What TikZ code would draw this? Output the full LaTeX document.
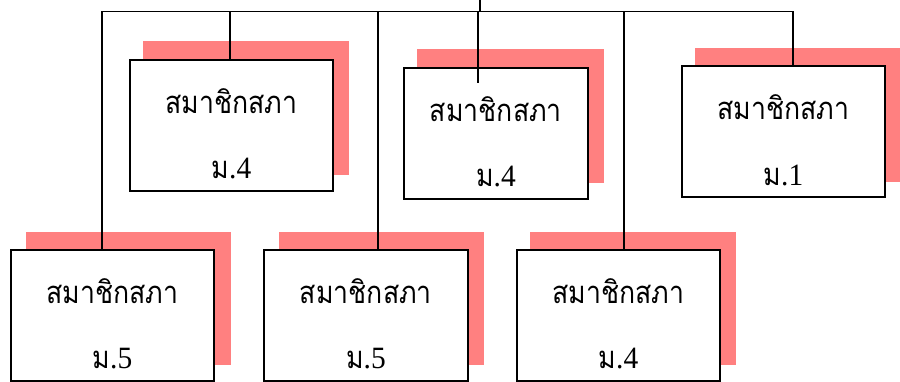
\documentclass[tikz,border=0pt]{standalone}
\usepackage{fontspec}
\newfontfamily\thai[Script=Thai,FakeStretch=0.86]{Loma}
\newfontfamily\num[FakeStretch=0.95]{Liberation Serif}
\definecolor{shade}{RGB}{255,128,128}
\begin{document}
\begin{tikzpicture}[x=1pt,y=-1pt,
  box/.style={draw=black, line width=1.8pt, fill=white, inner sep=0pt, anchor=north west, minimum height=131pt},
  shadow/.style={fill=shade},
  conn/.style={draw=black, line width=1.3pt},
  lbl/.style={inner sep=0pt, font=\thai\fontsize{31}{33}\selectfont}]
\useasboundingbox (0,0) rectangle (900,382);
% shadows
\fill[shadow] (143,41) rectangle (349,175);
\fill[shadow] (417,49) rectangle (604,183);
\fill[shadow] (695,48) rectangle (900,182);
\fill[shadow] (26,232) rectangle (231,365);
\fill[shadow] (279,232) rectangle (484,365);
\fill[shadow] (530,232) rectangle (736,365);
% boxes
\node[box, minimum width=203pt] (b1) at (129,59) {};
\node[box, minimum width=184pt] (b2) at (403,67) {};
\node[box, minimum width=203pt] (b3) at (681,65) {};
\node[box, minimum width=203pt] (b4) at (10,249) {};
\node[box, minimum width=204pt] (b5) at (263,249) {};
\node[box, minimum width=203pt] (b6) at (516,249) {};
% labels
\foreach \b/\g in {b1/4, b2/4, b3/1, b4/5, b5/5, b6/4}{
  \node[lbl] (\b t) at ([yshift=-42pt]\b.north) {สมาชิกสภา};
  \node[lbl] (\b g) at ([yshift=-110pt]\b.north) {ม{\num .\g}};
}
% connectors
\coordinate (top) at (480,0);
\coordinate (tl) at (102,11.5);
\coordinate (tr) at (793,11.5);
\coordinate (j1) at (230,11.5);
\coordinate (j2) at (478,11.5);
\coordinate (j2e) at (478,83);
\coordinate (j5) at (378,11.5);
\coordinate (j6) at (624,11.5);
\draw[conn] (tl) -- (tr);
\draw[conn] (top) -- (top |- tl);
\draw[conn] (j1) -- (j1 |- b1.north);
\draw[conn] (j2) -- (j2e);
\draw[conn] (tr) -- (tr |- b3.north);
\draw[conn] (tl) -- (tl |- b4.north);
\draw[conn] (j5) -- (j5 |- b5.north);
\draw[conn] (j6) -- (j6 |- b6.north);
\end{tikzpicture}
\end{document}
